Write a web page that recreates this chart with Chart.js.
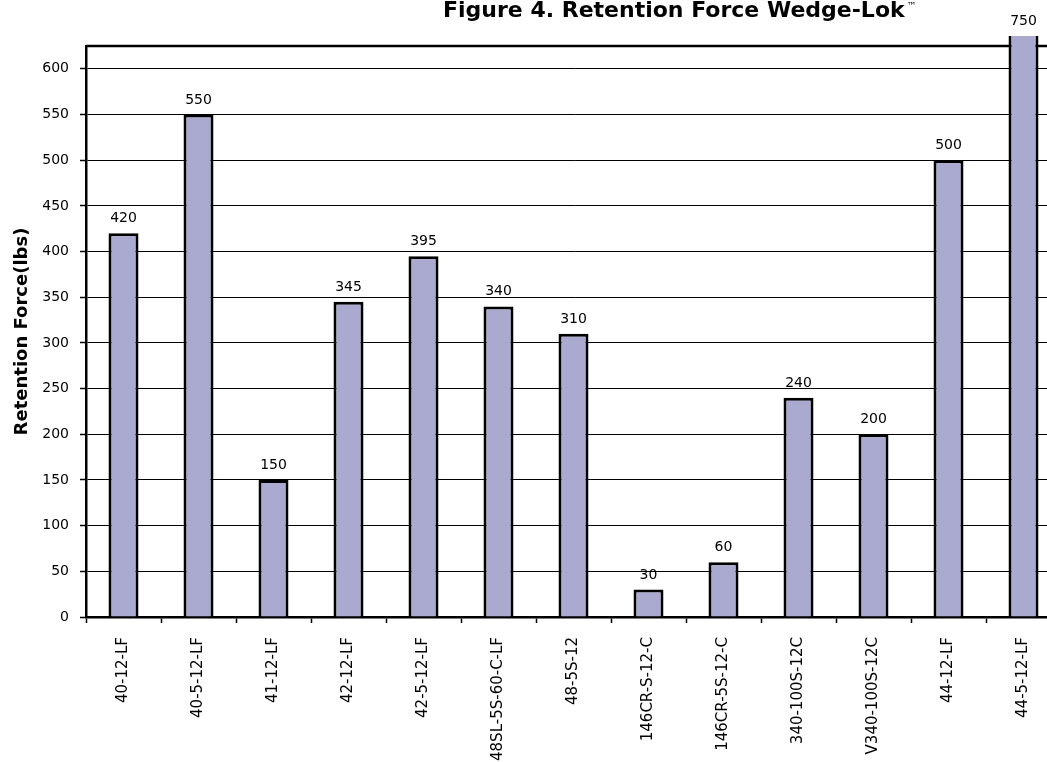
<!DOCTYPE html>
<html>
<head>
<meta charset="utf-8">
<script src="https://cdn.jsdelivr.net/npm/chart.js@4"></script>
<style>
  html, body { margin: 0; padding: 0; background: #fff; overflow: hidden; }
  #wrap { width: 1075px; height: 762px; position: relative; }
</style>
</head>
<body>
<div id="wrap"><canvas id="retentionChart"></canvas></div>
<script>
const partNumbers = [
  "40-12-LF", "40-5-12-LF", "41-12-LF", "42-12-LF", "42-5-12-LF",
  "48SL-5S-60-C-LF", "48-5S-12", "146CR-S-12-C", "146CR-5S-12-C",
  "340-100S-12C", "V340-100S-12C", "44-12-LF", "44-5-12-LF",
];
const retentionForce = [420, 550, 150, 345, 395, 340, 310, 30, 60, 240, 200, 500, 750];
const yAxisMax = 625;
const yAxisStep = 50;

const chartTitle = "Figure 4. Retention Force Wedge-Lok";
const yAxisTitle = "Retention Force(lbs)";

(function initChart() {
  if (typeof Chart === "undefined") {
    return;
  }

  Chart.defaults.color = "#000";
  Chart.defaults.font.family = "'DejaVu Sans', sans-serif";

  // frame on top + title drawn in the top padding
  const framePlugin = {
    id: "frame",
    beforeDatasetsDraw(chart) {
      const { ctx, chartArea } = chart;
      ctx.save();
      ctx.strokeStyle = "#000";
      ctx.lineWidth = 2.5;
      ctx.beginPath();
      ctx.moveTo(chartArea.left, chartArea.top);
      ctx.lineTo(chartArea.right, chartArea.top);
      ctx.lineTo(chartArea.right, chartArea.bottom);
      ctx.stroke();
      ctx.restore();
    },
    afterDraw(chart) {
      const { ctx } = chart;
      ctx.save();
      ctx.fillStyle = "#000";
      ctx.textBaseline = "alphabetic";
      ctx.textAlign = "left";
      ctx.font = "bold 22px 'DejaVu Sans', sans-serif";
      ctx.fillText(chartTitle, 443, 17);
      const w = ctx.measureText(chartTitle).width;
      ctx.font = "10px 'DejaVu Sans', sans-serif";
      ctx.fillText("\u2122", 443 + w + 2, 9);
      ctx.restore();
    },
  };

  const valueLabels = {
    id: "valueLabels",
    afterDatasetsDraw(chart) {
      const { ctx, chartArea } = chart;
      const meta = chart.getDatasetMeta(0);
      ctx.save();
      ctx.fillStyle = "#000";
      ctx.font = "14px 'DejaVu Sans', sans-serif";
      ctx.textAlign = "center";
      ctx.textBaseline = "alphabetic";
      meta.data.forEach((bar, i) => {
        const top = Math.max(bar.y, chartArea.top - 10);
        ctx.fillText(String(retentionForce[i]), bar.x, top - 11);
      });
      ctx.restore();
    },
  };

  new Chart(document.getElementById("retentionChart"), {
    type: "bar",
    data: {
      labels: partNumbers,
      datasets: [
        {
          label: "Retention Force",
          data: retentionForce,
          backgroundColor: "#aaa9cf",
          borderColor: "#000",
          borderWidth: 3,
          borderSkipped: "bottom",
          categoryPercentage: 1,
          barPercentage: 0.4,
          clip: { left: 0, right: 0, top: 10, bottom: 0 },
        },
      ],
    },
    options: {
      responsive: true,
      maintainAspectRatio: false,
      animation: false,
      layout: {
        padding: { top: 46, right: 14, bottom: 0, left: 0 },
      },
      plugins: {
        legend: { display: false },
        tooltip: { enabled: false },
      },
      scales: {
        x: {
          afterFit(scale) {
            scale.height = 145;
          },
          grid: {
            drawOnChartArea: false,
            drawTicks: true,
            tickLength: 6,
            tickColor: "#000",
            tickWidth: 1.5,
          },
          border: { color: "#000", width: 2.5 },
          ticks: {
            autoSkip: false,
            minRotation: 90,
            maxRotation: 90,
            padding: 14,
            font: { size: 15 },
          },
        },
        y: {
          min: 0,
          max: yAxisMax,
          afterFit(scale) {
            scale.width = 86;
          },
          grid: {
            color: "#000",
            lineWidth: 1,
            tickLength: 6,
            tickColor: "#000",
            tickWidth: 1.5,
          },
          border: { color: "#000", width: 2.5 },
          ticks: {
            stepSize: yAxisStep,
            includeBounds: false,
            padding: 11,
            font: { size: 14 },
          },
          title: {
            display: true,
            text: yAxisTitle,
            font: { size: 18, weight: "bold" },
            padding: { top: 12, bottom: 0 },
          },
        },
      },
    },
    plugins: [framePlugin, valueLabels],
  });
})();
</script>
</body>
</html>
